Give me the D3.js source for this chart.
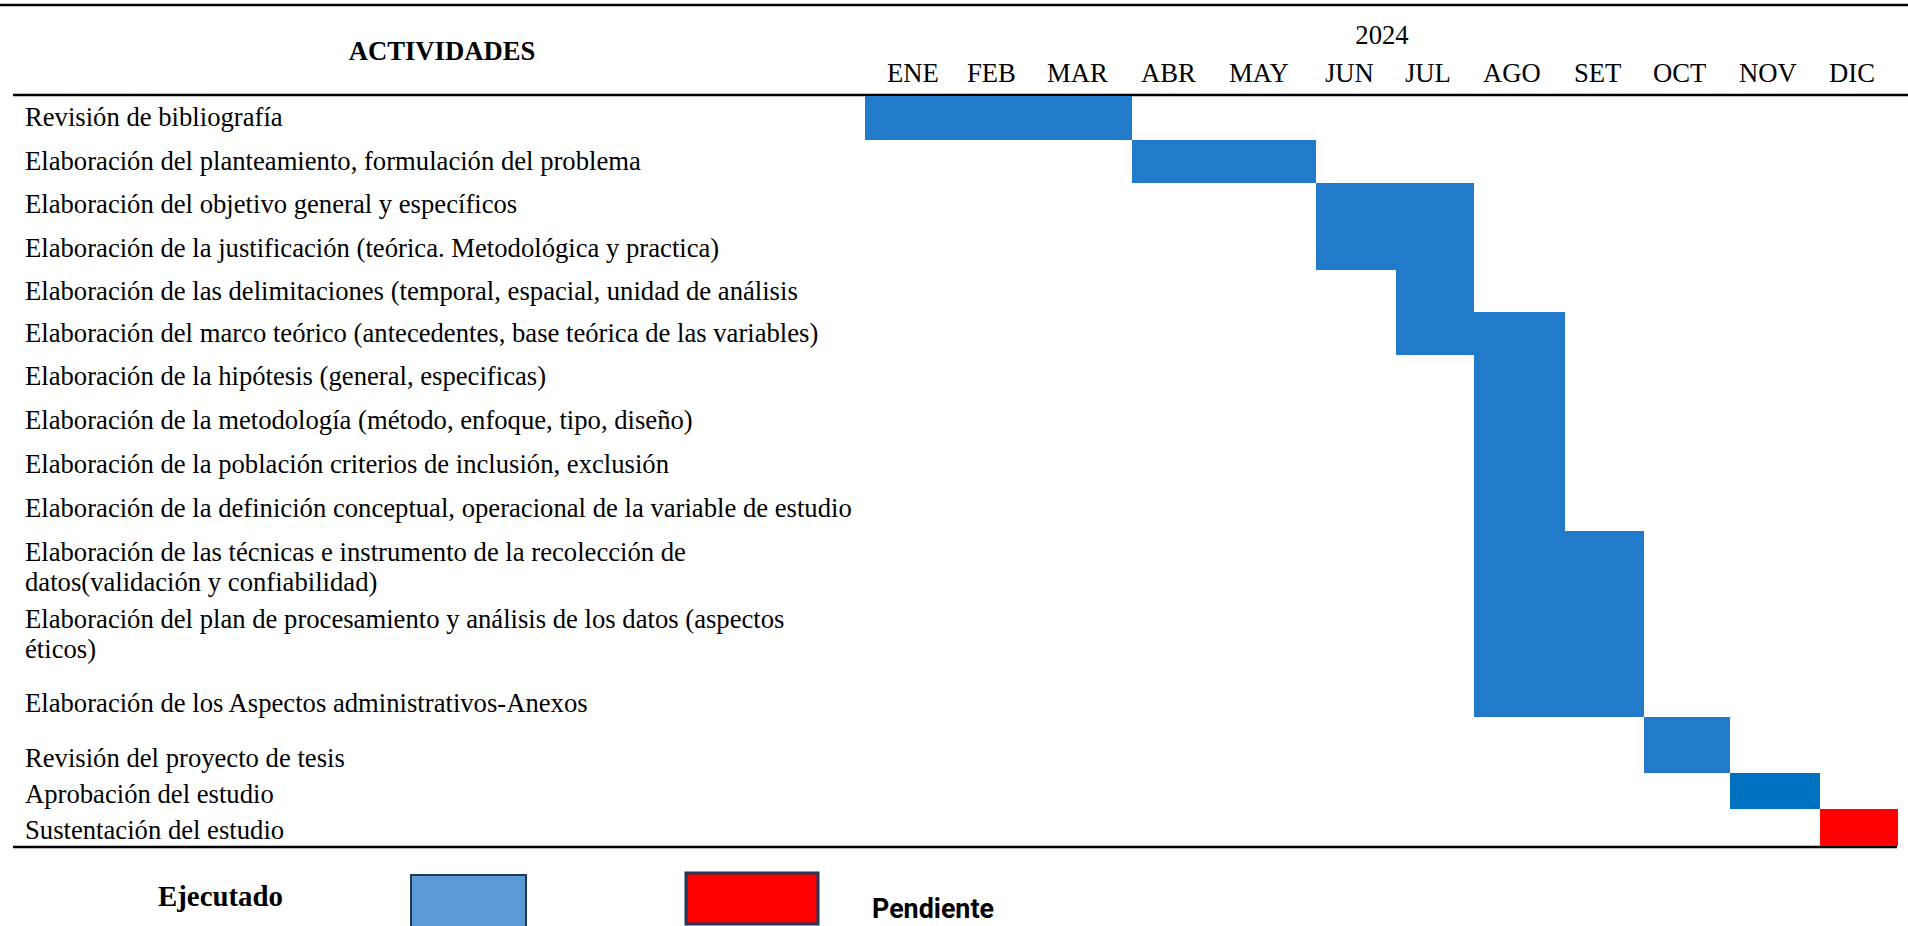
<!DOCTYPE html>
<html>
<head>
<meta charset="utf-8">
<script src="https://cdnjs.cloudflare.com/ajax/libs/d3/7.8.5/d3.min.js"></script>
<style>
  html, body { margin: 0; padding: 0; background: #fff; overflow: hidden; }
</style>
</head>
<body>
<div id="chart"></div>
<script>
// ---------------- data ----------------
const year = '2024';
const months = ['ENE', 'FEB', 'MAR', 'ABR', 'MAY', 'JUN', 'JUL', 'AGO', 'SET', 'OCT', 'NOV', 'DIC'];

const activities = [
  'Revisión de bibliografía',
  'Elaboración del planteamiento, formulación del problema',
  'Elaboración del objetivo general y específicos',
  'Elaboración de la justificación (teórica. Metodológica y practica)',
  'Elaboración de las delimitaciones (temporal, espacial, unidad de análisis',
  'Elaboración del marco teórico (antecedentes, base teórica de las variables)',
  'Elaboración de la hipótesis (general, especificas)',
  'Elaboración de la metodología (método, enfoque, tipo, diseño)',
  'Elaboración de la población criterios de inclusión, exclusión',
  'Elaboración de la definición conceptual, operacional de la variable de estudio',
  'Elaboración de las técnicas e instrumento de la recolección de\ndatos(validación y confiabilidad)',
  'Elaboración del plan de procesamiento y análisis de los datos (aspectos\néticos)',
  'Elaboración de los Aspectos administrativos-Anexos',
  'Revisión del proyecto de tesis',
  'Aprobación del estudio',
  'Sustentación del estudio'
];

// month index where each activity starts, and where it ends (exclusive)
const startMonth = [0, 3, 5, 5, 6, 6, 7, 7, 7, 7, 7, 7, 7, 9, 10, 11];
const endMonth   = [3, 5, 7, 7, 7, 8, 8, 8, 8, 8, 9, 9, 9, 10, 11, 12];
const status = ['Ejecutado', 'Ejecutado', 'Ejecutado', 'Ejecutado', 'Ejecutado', 'Ejecutado',
  'Ejecutado', 'Ejecutado', 'Ejecutado', 'Ejecutado', 'Ejecutado', 'Ejecutado', 'Ejecutado',
  'Ejecutado', 'Ejecutado', 'Pendiente'];

const legendLabels = ['Ejecutado', 'Pendiente'];

// ---------------- layout ----------------
const settings = {
  width: 1908,
  height: 926,
  font: '"Liberation Serif", "Times New Roman", serif',
  fontSize: 26.67,
  color: {
    text: '#000',
    done: '#227BCA',
    doneAlt: '#0070C0',
    pending: '#FF0000',
    legendDone: '#5B9BD5',
    legendStroke: '#23395A'
  }
};

// table column edges (Word table, uneven widths)
const columnEdges = [865, 958, 1038, 1132, 1220, 1316, 1396, 1474, 1565, 1644, 1730, 1820, 1898];
// table row edges
const rowEdges = [96, 140, 183, 227, 270, 312, 355, 399, 443, 487, 531, 598, 682, 717, 773, 809, 846];
const labelX = 25;
const lineGap = 30;

const svg = d3.select('#chart').append('svg')
  .attr('width', settings.width)
  .attr('height', settings.height)
  .style('font-family', settings.font);

//-------------------- Scales --------------------
const xScale = d3.scaleLinear()
  .domain(d3.range(months.length + 1))
  .range(columnEdges);

const yScale = d3.scaleLinear()
  .domain(d3.range(activities.length + 1))
  .range(rowEdges);

const colorScale = d3.scaleOrdinal()
  .domain(legendLabels)
  .range([settings.color.done, settings.color.pending]);

//-------------------- Rules --------------------
const rules = [
  {x1: 0, x2: 1908, y: 5},
  {x1: 13, x2: 1908, y: 95},
  {x1: 13, x2: 1897, y: 847}
];
svg.append('g')
  .selectAll('line')
  .data(rules)
  .enter()
  .append('line')
    .attr('x1', d => d.x1)
    .attr('x2', d => d.x2)
    .attr('y1', d => d.y)
    .attr('y2', d => d.y)
    .style('stroke', '#000')
    .style('stroke-width', 2.5);

//-------------------- Header --------------------
const header = svg.append('g')
  .style('font-size', settings.fontSize + 'px')
  .style('fill', settings.color.text);

header.append('text')
  .attr('x', 442)
  .attr('y', 60)
  .attr('text-anchor', 'middle')
  .style('font-weight', 'bold')
  .text('ACTIVIDADES');

header.append('text')
  .attr('x', 1382)
  .attr('y', 44)
  .attr('text-anchor', 'middle')
  .text(year);

header.selectAll('.month')
  .data(months)
  .enter()
  .append('text')
    .attr('class', 'month')
    .attr('x', (d, i) => xScale(i) + (i === 0 ? 22 : 9))
    .attr('y', 82)
    .text(d => d);

//-------------------- Bars --------------------
svg.append('g')
  .selectAll('rect')
  .data(activities)
  .enter()
  .append('rect')
    .attr('x', (d, i) => xScale(startMonth[i]))
    .attr('y', (d, i) => yScale(i))
    .attr('width', (d, i) => xScale(endMonth[i]) - xScale(startMonth[i]))
    .attr('height', (d, i) => yScale(i + 1) - yScale(i))
    .attr('fill', (d, i) => i === 14 ? settings.color.doneAlt : colorScale(status[i]))
    .attr('shape-rendering', 'crispEdges');

//-------------------- Activity labels --------------------
const labels = svg.append('g')
  .style('font-size', settings.fontSize + 'px')
  .style('fill', settings.color.text)
  .selectAll('text')
  .data(activities)
  .enter()
  .append('text')
    .attr('x', labelX)
    .attr('y', (d, i) => {
      // the "Revisión del proyecto" text sits low in its row
      if (i === 13) return yScale(i + 1) - 6;
      return yScale(i) + 30;
    });

labels.selectAll('tspan')
  .data(d => d.split('\n'))
  .enter()
  .append('tspan')
    .attr('x', labelX)
    .attr('dy', (d, j) => j === 0 ? 0 : lineGap)
    .text(d => d);

//-------------------- Legend --------------------
const legend = svg.append('g');

legend.append('text')
  .attr('x', 158)
  .attr('y', 906)
  .attr('textLength', 125)
  .attr('lengthAdjust', 'spacingAndGlyphs')
  .style('font-size', '30px')
  .style('font-weight', 'bold')
  .text(legendLabels[0]);

legend.append('rect')
  .attr('x', 411)
  .attr('y', 875)
  .attr('width', 115)
  .attr('height', 60)
  .attr('fill', settings.color.legendDone)
  .attr('stroke', settings.color.legendStroke)
  .attr('stroke-width', 2);

legend.append('rect')
  .attr('x', 686)
  .attr('y', 873)
  .attr('width', 132)
  .attr('height', 51)
  .attr('fill', colorScale(legendLabels[1]))
  .attr('stroke', settings.color.legendStroke)
  .attr('stroke-width', 3);

legend.append('text')
  .attr('x', 872)
  .attr('y', 918)
  .attr('textLength', 122)
  .attr('lengthAdjust', 'spacingAndGlyphs')
  .style('font-family', 'Roboto, "Open Sans", sans-serif')
  .style('font-size', '27px')
  .style('font-weight', 'bold')
  .text(legendLabels[1]);
</script>
</body>
</html>
